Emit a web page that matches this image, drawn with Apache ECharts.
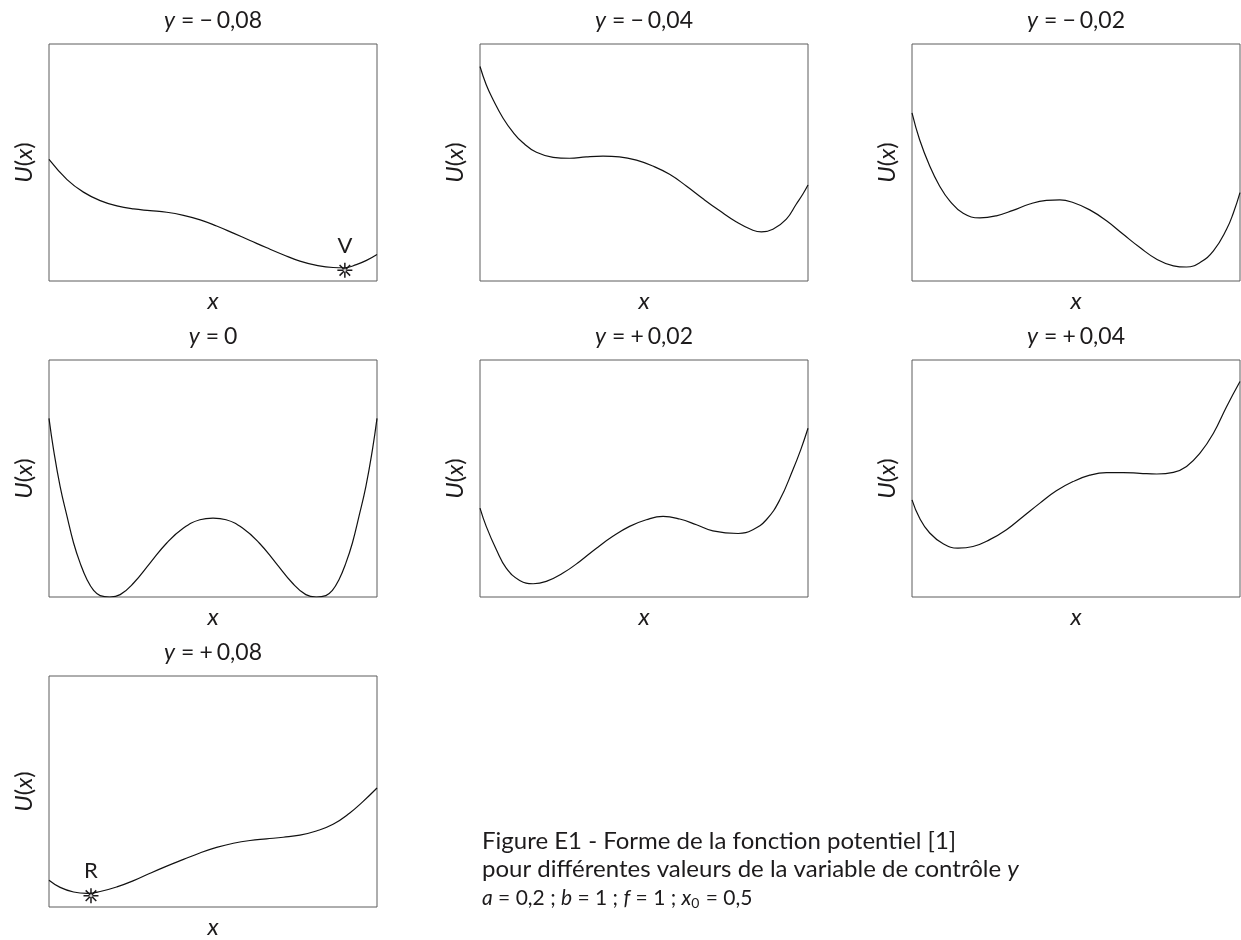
<!DOCTYPE html>
<html>
<head>
<meta charset="utf-8">
<script src="https://cdn.jsdelivr.net/npm/echarts@6/dist/echarts.min.js"></script>
<style>
  html, body { margin: 0; padding: 0; background: #fff; }
  #chart { width: 1241px; height: 940px; }
</style>
</head>
<body>
<div id="chart"></div>
<script>
// values of y (control variable) shown above each panel: sign, number
const panelSigns = ['−', '−', '−', '', '+', '+', '+'];
const panelValues = ['0,08', '0,04', '0,02', '0', '0,02', '0,04', '0,08'];

// curves, x and U both in % of the panel box
const xM008 = [0, 5.5, 10.5, 15.6, 20.7, 25.8, 30.8, 35.9, 41.0, 46.1, 51.1, 56.2, 61.3, 66.4, 71.4, 76.5, 81.6, 86.6, 90.2, 93.7, 96.8, 100];
const uM008 = [51.3, 42.8, 37.5, 33.9, 31.7, 30.4, 29.7, 29.0, 27.7, 25.8, 23.2, 20.2, 17.1, 14.0, 11.1, 8.4, 6.6, 5.7, 5.6, 6.9, 8.7, 11.2];

const xM004 = [0, 1.9, 4.0, 7.0, 10.1, 13.1, 17.2, 22.3, 27.3, 32.4, 37.5, 42.5, 47.7, 52.7, 57.8, 62.9, 68.0, 73.1, 78.2, 83.2, 85.8, 89.3, 93.4, 96.4, 98.4, 100];
const uM004 = [90.5, 82.8, 76.5, 68.8, 62.7, 58.3, 54.3, 52.2, 51.8, 52.4, 52.7, 52.4, 51.0, 48.5, 45.0, 40.1, 34.7, 29.6, 24.9, 21.4, 20.7, 21.8, 26.1, 32.4, 36.6, 40.5];

const xM002 = [0, 2.3, 5.4, 8.4, 11.5, 15.6, 20.7, 25.7, 30.8, 35.9, 41.0, 45.1, 49.1, 54.2, 59.3, 64.4, 69.5, 74.6, 79.7, 83.7, 87.8, 91.9, 95.9, 98.0, 100];
const uM002 = [70.9, 59.7, 48.5, 40.1, 33.8, 28.6, 26.6, 27.5, 29.8, 32.5, 34.0, 34.2, 33.1, 30.0, 25.4, 19.7, 14.1, 9.2, 6.4, 5.9, 7.8, 12.7, 21.8, 28.8, 37.3];

const x0 = [0, 1.4, 3.4, 5.5, 7.5, 9.5, 11.6, 13.6, 15.6, 18.5, 21.7, 25.8, 30.8, 35.9, 41.0, 46.0, 50.0, 54.0, 59.0, 64.1, 69.2, 74.2, 78.3, 81.5, 84.4, 86.4, 88.4, 90.5, 92.5, 94.5, 96.6, 98.6, 100];
const u0 = [75.4, 62.1, 46.6, 34.0, 22.8, 14.3, 7.3, 2.8, 0.6, 0, 1.0, 5.9, 14.3, 22.8, 29.1, 32.6, 33.3, 32.6, 29.1, 22.8, 14.3, 5.9, 1.0, 0, 0.6, 2.8, 7.3, 14.3, 22.8, 34.0, 46.6, 62.1, 75.4];

const xP002 = [0, 1.9, 5.0, 8.0, 12.1, 16.2, 20.2, 25.3, 30.4, 35.5, 40.5, 45.6, 50.7, 55.8, 60.9, 66.0, 71.0, 78.7, 83.2, 87.3, 91.4, 95.4, 97.8, 100];
const uP002 = [37.5, 29.8, 19.9, 12.2, 7.0, 5.6, 6.6, 10.1, 15.0, 20.6, 25.6, 29.8, 32.6, 34.0, 32.9, 30.5, 27.9, 26.8, 28.4, 32.6, 41.0, 53.7, 62.2, 71.2];

const xP004 = [0, 2.3, 5.4, 9.5, 14.0, 18.6, 23.7, 28.8, 33.9, 39.0, 44.0, 49.1, 54.2, 59.3, 64.4, 69.5, 74.6, 79.7, 83.7, 87.8, 91.9, 95.9, 100];
const uP004 = [41.0, 33.3, 27.0, 22.5, 20.6, 21.3, 24.2, 28.4, 34.0, 39.6, 44.8, 48.7, 51.4, 52.5, 52.5, 52.2, 51.9, 52.6, 55.1, 60.7, 69.1, 80.3, 90.9];

const xP008 = [0, 3.4, 7.5, 11.6, 15.6, 20.7, 25.8, 30.8, 35.9, 41.0, 46.0, 51.1, 56.2, 61.3, 66.3, 71.4, 76.5, 81.5, 86.6, 91.7, 95.7, 100];
const uP008 = [11.6, 8.5, 6.5, 5.9, 6.7, 8.7, 11.4, 14.6, 17.7, 20.6, 23.4, 25.8, 27.6, 28.8, 29.5, 30.2, 31.1, 32.9, 35.8, 40.7, 45.6, 51.5];

const curveXs = [xM008, xM004, xM002, x0, xP002, xP004, xP008];
const curveUs = [uM008, uM004, uM002, u0, uP002, uP004, uP008];

// labelled states: V (panel 1) and R (panel 7)
const markNames = ['V', 'R'];
const markPanels = [0, 6];
const markX = [90.2, 12.8];
const markU = [4.5, 4.9];

const chart = echarts.init(document.getElementById('chart'));

const FONT = 'Lato, "Noto Sans", sans-serif';
const INK = '#1d1b1c';
const colLeft = [49, 480, 912];
const rowTop = [44, 360, 676];
const boxW = 328;
const boxH = 237;

// asterisk made of four bars
const starPath = 'path://M-0.8,-8L0.8,-8L0.8,8L-0.8,8Z M-8,-0.8L8,-0.8L8,0.8L-8,0.8Z ' +
    'M5.09,6.22L6.22,5.09L-5.09,-6.22L-6.22,-5.09Z M6.22,-5.09L5.09,-6.22L-6.22,5.09L-5.09,6.22Z';

const italic = size => ({ fontFamily: FONT, fontStyle: 'italic', fontSize: size, color: INK, fill: INK });
const upright = size => ({ fontFamily: FONT, fontSize: size, color: INK, fill: INK });

const grids = [], xAxes = [], yAxes = [], series = [], graphics = [];

panelValues.forEach((val, i) => {
    const left = colLeft[i % 3];
    const top = rowTop[Math.floor(i / 3)];
    grids.push({
        left: left, top: top, width: boxW, height: boxH,
        show: true, borderColor: '#5c5c5c', borderWidth: 1,
    });
    xAxes.push({
        type: 'value', gridIndex: i, min: 0, max: 100,
        axisLine: { show: false }, axisTick: { show: false },
        axisLabel: { show: false }, splitLine: { show: false },
        name: '{i|x}', nameLocation: 'middle', nameGap: 8,
        nameTextStyle: { rich: { i: italic(24) } },
    });
    yAxes.push({
        type: 'value', gridIndex: i, min: 0, max: 100,
        axisLine: { show: false }, axisTick: { show: false },
        axisLabel: { show: false }, splitLine: { show: false },
        name: '{i|U}{n|(}{i|x}{n|)}', nameLocation: 'middle', nameRotate: 90, nameGap: 13,
        nameTextStyle: { rich: { i: italic(24), n: upright(24) } },
    });
    series.push({
        type: 'line', xAxisIndex: i, yAxisIndex: i,
        data: curveXs[i].map((x, k) => [x, curveUs[i][k]]),
        showSymbol: false, smooth: 0.45,
        lineStyle: { color: '#111', width: 1.2 },
        silent: true,
    });
    // panel title "y = ..."
    const sign = panelSigns[i] ? '{s|' + panelSigns[i] + '}' : '';
    graphics.push({
        type: 'text', x: left + boxW / 2, y: top - 23,
        style: {
            text: '{i|y}{e|=}' + sign + '{n|' + val + '}',
            align: 'center', verticalAlign: 'middle',
            rich: {
                i: italic(23),
                e: Object.assign(upright(23), { padding: [0, 5, 0, 6] }),
                s: Object.assign(upright(23), { padding: [0, 4, 0, 0] }),
                n: upright(23),
            },
        },
    });
});

markNames.forEach((nm, j) => {
    const p = markPanels[j];
    series.push({
        type: 'scatter', xAxisIndex: p, yAxisIndex: p,
        data: [[markX[j], markU[j]]],
        symbol: starPath, symbolSize: 15,
        itemStyle: { color: INK, opacity: 1 },
        label: {
            show: true, position: 'top', distance: 6, formatter: nm,
            fontFamily: FONT, fontSize: 22, color: INK,
        },
        silent: true,
    });
});

// caption
const capX = 482;
graphics.push({
    type: 'text', x: capX, y: 841,
    style: {
        text: 'Figure E1 - Forme de la fonction potentiel [1]',
        fontFamily: FONT, fontSize: 24, fill: INK, verticalAlign: 'middle',
    },
});
graphics.push({
    type: 'text', x: capX, y: 869,
    style: {
        text: '{n|pour différentes valeurs de la variable de contrôle }{i|y}',
        verticalAlign: 'middle',
        rich: { n: upright(24), i: italic(24) },
    },
});
graphics.push({
    type: 'text', x: capX, y: 898,
    style: {
        text: '{i|a}{n| = 0,2 ; }{i|b}{n| = 1 ; }{i|f}{n| = 1 ; }{i|x}{s|0}{n| = 0,5}',
        verticalAlign: 'middle',
        rich: {
            n: Object.assign(upright(21), { lineHeight: 24 }),
            i: Object.assign(italic(21), { lineHeight: 24 }),
            s: Object.assign(upright(14), { lineHeight: 14, verticalAlign: 'bottom', padding: [0, 1, 0, 0] }),
        },
    },
});

chart.setOption({
    backgroundColor: '#fff',
    animation: false,
    grid: grids,
    xAxis: xAxes,
    yAxis: yAxes,
    series: series,
    graphic: graphics,
});
</script>
</body>
</html>
